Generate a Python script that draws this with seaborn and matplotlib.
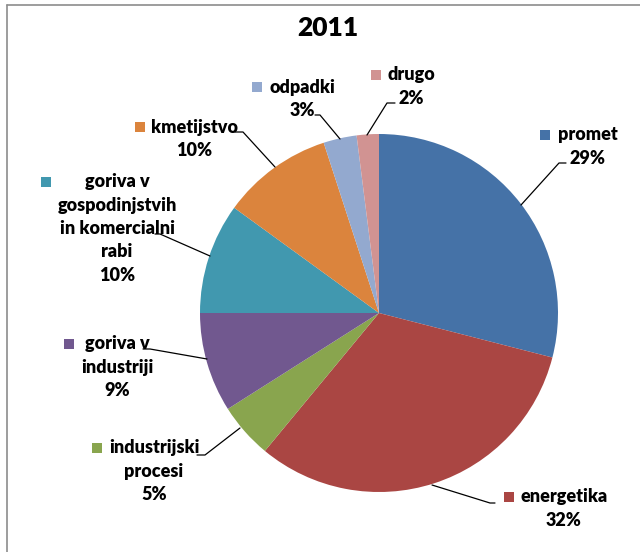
import matplotlib
matplotlib.use("Agg")
import matplotlib.pyplot as plt
import seaborn as sns
from matplotlib.patches import Rectangle
from matplotlib.lines import Line2D

sns.set_theme(style="white")
plt.rcParams['font.family'] = ['Lato', 'DejaVu Sans']

title = "2011"
categories = ["promet", "energetika", "industrijski\nprocesi", "goriva v\nindustriji",
              "goriva v\ngospodinjstvih\nin komercialni\nrabi", "kmetijstvo", "odpadki", "drugo"]
values = [29, 32, 5, 9, 10, 10, 3, 2]
colors = ["#4572A7", "#AA4643", "#89A54E", "#71588F", "#4198AF", "#DB843D", "#93A9CF", "#D19392"]
palette = sns.color_palette(colors)

W, H = 640, 552
CX, CY, R = 379, 313, 179

def P(x, y):
    return ((x - CX) / R, (CY - y) / R)

fig = plt.figure(figsize=(W / 100, H / 100), dpi=100)
ax = fig.add_axes([0, 0, 1, 1])
ax.pie(values, colors=palette, startangle=90, counterclock=False, radius=1,
       center=(0, 0), wedgeprops=dict(linewidth=0))
ax.set_xlim(P(0, 0)[0], P(W, 0)[0])
ax.set_ylim(P(0, H)[1], P(0, 0)[1])
ax.set_aspect('equal')
ax.axis('off')

# label layout: (square center px, text center x px, first line y px, leader line pts)
layout = [
    ((545, 135), 588, 135, [(566, 163), (559, 163), (521, 205)]),
    ((509, 497), 564, 497, [(495, 503), (490, 503), (432, 485)]),
    ((97, 448), 154, 448, [(197, 455), (205, 455), (240, 428)]),
    ((69, 344), 117, 344, [(143, 349), (150, 349), (207, 359)]),
    ((46, 182), 117, 182, [(155, 234), (160, 234), (210, 256)]),
    ((140, 127), 194, 127, [(235, 132), (243, 132), (275, 167)]),
    ((257, 87), 302, 87, [(315, 115), (320, 115), (340, 139)]),
    ((376, 75), 411, 75, [(395, 103), (387, 103), (367, 135)]),
]
LS = 23.3
sq = 10.5 / R
for cat, val, col, (sqc, tx, ty, line) in zip(categories, values, palette, layout):
    lines = cat.split("\n") + [f"{val}%"]
    for i, ln in enumerate(lines):
        ax.text(*P(tx, ty + i * LS), ln, ha='center', va='center',
                fontsize=13, fontweight='heavy', color='#000000')
    sx, sy = P(*sqc)
    ax.add_patch(Rectangle((sx - sq / 2, sy - sq / 2), sq, sq, color=col, lw=0))
    pts = [P(*p) for p in line]
    ax.add_line(Line2D([p[0] for p in pts], [p[1] for p in pts], color='black', lw=0.9))

ax.text(*P(328, 28), title, ha='center', va='center', fontsize=19,
        fontweight='heavy', color='#000000')

# frame
fig.add_artist(Line2D([7 / W, 1], [1 - 5 / H, 1 - 5 / H], color='#8c8c8c', lw=1.2))
fig.add_artist(Line2D([7 / W, 7 / W], [0, 1 - 5 / H], color='#8c8c8c', lw=1.2))

fig.savefig("out.png", dpi=100, facecolor='white')
